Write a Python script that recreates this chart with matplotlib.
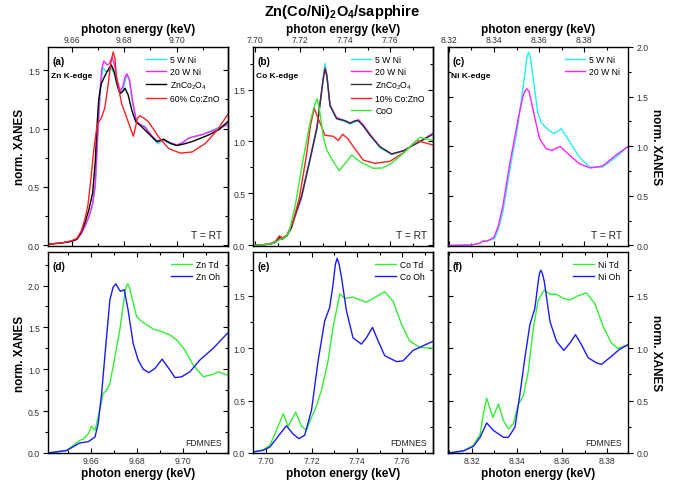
import matplotlib
matplotlib.use('Agg')
import matplotlib.pyplot as plt
from matplotlib.ticker import MultipleLocator, FormatStrFormatter, NullFormatter

plt.rcParams['font.family'] = ['Liberation Sans', 'DejaVu Sans']
plt.rcParams['mathtext.fontset'] = 'custom'
plt.rcParams['mathtext.rm'] = 'Liberation Sans'
plt.rcParams['mathtext.bf'] = 'Liberation Sans:bold'

# ---- (a) Zn K-edge, measured ----
a_e_cyan = [9.651, 9.656, 9.660, 9.662, 9.6636, 9.665, 9.6665, 9.668, 9.669, 9.6695,
            9.6701, 9.6707, 9.6712, 9.6719, 9.673, 9.6742, 9.6751, 9.6762, 9.6773, 9.6783,
            9.6795, 9.6805, 9.6812, 9.682, 9.6832, 9.6847, 9.6865, 9.688, 9.6905, 9.6928,
            9.695, 9.6975, 9.7001, 9.7025, 9.7046, 9.7097, 9.7149, 9.720]
a_cyan = [0.01, 0.02, 0.035, 0.05, 0.10, 0.16, 0.24, 0.35, 0.50, 0.72,
          1.00, 1.22, 1.38, 1.525, 1.49, 1.49, 1.517, 1.47, 1.37, 1.30,
          1.33, 1.42, 1.46, 1.41, 1.22, 1.05, 1.03, 1.02, 0.93, 0.87,
          0.90, 0.87, 0.855, 0.88, 0.918, 0.947, 1.0, 1.05]
a_e_mag = [9.651, 9.656, 9.660, 9.662, 9.6636, 9.665, 9.6665, 9.668, 9.669, 9.6695,
           9.6701, 9.6707, 9.6714, 9.6722, 9.6736, 9.6745, 9.6753, 9.6763, 9.6773, 9.6785,
           9.6795, 9.6803, 9.681, 9.682, 9.6832, 9.6847, 9.6865, 9.688, 9.6905, 9.6928,
           9.695, 9.6975, 9.7001, 9.7025, 9.7046, 9.7097, 9.7149, 9.720]
a_mag = [0.01, 0.02, 0.035, 0.05, 0.10, 0.16, 0.24, 0.36, 0.53, 0.76,
         1.03, 1.28, 1.50, 1.58, 1.545, 1.56, 1.61, 1.55, 1.42, 1.32,
         1.36, 1.44, 1.47, 1.42, 1.24, 1.06, 1.03, 1.01, 0.94, 0.885,
         0.905, 0.88, 0.86, 0.885, 0.92, 0.95, 0.99, 1.04]
a_e_blk = [9.651, 9.656, 9.660, 9.662, 9.6636, 9.665, 9.6665, 9.668, 9.669, 9.6696,
           9.6703, 9.6712, 9.6722, 9.6735, 9.6751, 9.6763, 9.6775, 9.6785, 9.6795, 9.6803,
           9.6815, 9.683, 9.6844, 9.6865, 9.6892, 9.6924, 9.695, 9.6975, 9.700, 9.703,
           9.706, 9.7123, 9.716, 9.720]
a_blk = [0.01, 0.02, 0.035, 0.055, 0.11, 0.19, 0.30, 0.45, 0.72, 1.00,
         1.25, 1.38, 1.43, 1.49, 1.546, 1.48, 1.36, 1.30, 1.32, 1.346,
         1.29, 1.15, 1.06, 1.02, 0.96, 0.89, 0.91, 0.875, 0.855, 0.87,
         0.89, 0.947, 0.99, 1.07]
a_e_red = [9.651, 9.656, 9.660, 9.662, 9.6636, 9.665, 9.6662, 9.6672, 9.6685, 9.6695,
           9.670, 9.6713, 9.6726, 9.6738, 9.6749, 9.6758, 9.6765, 9.677, 9.679, 9.6815,
           9.6835, 9.6851, 9.686, 9.6875, 9.6892, 9.6931, 9.6969, 9.7014, 9.7059, 9.711,
           9.7155, 9.720]
a_red = [0.01, 0.02, 0.04, 0.06, 0.12, 0.22, 0.345, 0.545, 0.83, 1.0,
         1.046, 1.09, 1.175, 1.36, 1.56, 1.657, 1.6, 1.446, 1.217, 1.06,
         0.935, 1.09, 1.11, 1.09, 1.06, 0.93, 0.83, 0.79, 0.80, 0.875,
         0.99, 1.14]

# ---- (b) Co K-edge, measured ----
b_e = [7.699, 7.703, 7.707, 7.709, 7.7107, 7.712, 7.714, 7.716, 7.7175, 7.7205,
       7.724, 7.7274, 7.729, 7.7302, 7.731, 7.7318, 7.7332, 7.7361, 7.7399, 7.7421,
       7.7445, 7.7458, 7.748, 7.751, 7.7554, 7.7606, 7.7658, 7.7732, 7.779]
b_5w = [0.0, 0.005, 0.015, 0.03, 0.07, 0.06, 0.09, 0.16, 0.26, 0.45,
        0.78, 1.12, 1.40, 1.62, 1.75, 1.65, 1.34, 1.22, 1.19, 1.17,
        1.19, 1.20, 1.15, 1.06, 0.94, 0.875, 0.91, 1.0, 1.07]
b_20w = [0.0, 0.005, 0.015, 0.03, 0.07, 0.06, 0.09, 0.165, 0.27, 0.46,
         0.80, 1.14, 1.41, 1.61, 1.71, 1.64, 1.35, 1.23, 1.20, 1.18,
         1.20, 1.21, 1.16, 1.07, 0.95, 0.88, 0.91, 1.0, 1.08]
b_zco = [0.0, 0.005, 0.015, 0.03, 0.075, 0.06, 0.095, 0.17, 0.28, 0.47,
         0.80, 1.13, 1.40, 1.60, 1.70, 1.63, 1.35, 1.22, 1.20, 1.175,
         1.20, 1.20, 1.15, 1.06, 0.95, 0.88, 0.91, 1.0, 1.07]
b_e_red = [7.699, 7.703, 7.707, 7.709, 7.7107, 7.712, 7.714, 7.7166, 7.7195, 7.7225,
           7.7245, 7.7262, 7.728, 7.731, 7.7347, 7.7369, 7.7388, 7.741, 7.7436, 7.748,
           7.7532, 7.7599, 7.7658, 7.7717, 7.779]
b_red = [0.0, 0.005, 0.02, 0.04, 0.093, 0.07, 0.10, 0.22, 0.45, 0.835,
         1.15, 1.32, 1.22, 1.06, 1.05, 1.01, 1.07, 1.03, 0.95, 0.82,
         0.79, 0.81, 0.89, 1.01, 0.966]
b_e_coo = [7.699, 7.703, 7.707, 7.709, 7.711, 7.713, 7.715, 7.7178, 7.7213, 7.7245,
           7.7265, 7.7276, 7.7288, 7.7302, 7.7317, 7.7347, 7.7373, 7.7406, 7.7428, 7.7465,
           7.7524, 7.7565, 7.7605, 7.7658, 7.7732, 7.779]
b_coo = [0.0, 0.005, 0.015, 0.03, 0.06, 0.07, 0.13, 0.39, 0.835, 1.20,
         1.36, 1.41, 1.27, 1.05, 0.92, 0.806, 0.72, 0.806, 0.87, 0.806,
         0.742, 0.745, 0.79, 0.886, 1.04, 1.01]

# ---- (c) Ni K-edge, measured ----
c_e_5w = [8.32, 8.330, 8.3335, 8.3351, 8.337, 8.3403, 8.342, 8.344, 8.3469, 8.3506,
          8.3536, 8.3546, 8.3553, 8.3561, 8.3572, 8.3594, 8.3609, 8.3638, 8.3665, 8.3698,
          8.3727, 8.3778, 8.3823, 8.3881, 8.394, 8.3995]
c_5w = [0.0, 0.005, 0.02, 0.043, 0.045, 0.07, 0.17, 0.34, 0.74, 1.21,
        1.71, 1.90, 1.946, 1.90, 1.71, 1.34, 1.236, 1.17, 1.126, 1.176,
        1.075, 0.89, 0.79, 0.79, 0.89, 1.0]
c_e_20w = [8.32, 8.330, 8.3335, 8.3351, 8.337, 8.340, 8.342, 8.344, 8.3469, 8.3506,
           8.3528, 8.3538, 8.3546, 8.3556, 8.3572, 8.3602, 8.3631, 8.3656, 8.3693, 8.3735,
           8.3778, 8.3826, 8.3881, 8.394, 8.3995]
c_20w = [0.0, 0.005, 0.02, 0.043, 0.045, 0.08, 0.20, 0.405, 0.81, 1.26,
         1.50, 1.56, 1.578, 1.55, 1.377, 1.075, 0.975, 0.958, 0.998, 0.908,
         0.824, 0.78, 0.80, 0.91, 1.0]

# ---- (d) Zn, FDMNES ----
d_e_td = [9.6415, 9.6496, 9.6553, 9.657, 9.659, 9.6604, 9.6619, 9.6633, 9.6655, 9.667,
          9.6684, 9.6706, 9.6727, 9.6745, 9.6753, 9.6761, 9.6769, 9.6778, 9.680, 9.6822,
          9.685, 9.6872, 9.6909, 9.6945, 9.6974, 9.701, 9.7046, 9.709, 9.7133, 9.7155,
          9.7195]
d_td = [0.0, 0.03, 0.15, 0.17, 0.23, 0.32, 0.27, 0.43, 0.71, 0.75,
        0.83, 1.15, 1.47, 1.83, 1.97, 2.02, 1.98, 1.87, 1.63, 1.57,
        1.52, 1.48, 1.45, 1.41, 1.35, 1.23, 1.05, 0.91, 0.94, 0.97,
        0.93]
d_e_oh = [9.6415, 9.6496, 9.6553, 9.659, 9.6619, 9.6633, 9.6648, 9.6667, 9.6684, 9.6698,
          9.671, 9.672, 9.673, 9.6746, 9.6763, 9.6785, 9.6807, 9.6829, 9.6853, 9.688,
          9.6911, 9.694, 9.6967, 9.6996, 9.7032, 9.7075, 9.7133, 9.7195]
d_oh = [0.0, 0.03, 0.12, 0.135, 0.19, 0.35, 0.71, 1.31, 1.83, 1.98,
        2.02, 1.97, 1.93, 1.95, 1.71, 1.31, 1.11, 1.0, 0.96, 1.01,
        1.12, 1.01, 0.90, 0.91, 0.97, 1.11, 1.25, 1.43]

# ---- (e) Co, FDMNES ----
e_e_td = [7.6941, 7.6985, 7.7015, 7.7044, 7.7074, 7.7096, 7.7129, 7.7154, 7.7176, 7.7199,
          7.7221, 7.7243, 7.7272, 7.7294, 7.7324, 7.7346, 7.7382, 7.7404, 7.7441, 7.7478,
          7.7522, 7.7559, 7.7596, 7.7632, 7.7676, 7.7735]
e_td = [0.01, 0.03, 0.073, 0.216, 0.375, 0.254, 0.39, 0.26, 0.216, 0.34,
        0.45, 0.60, 0.88, 1.2, 1.52, 1.476, 1.49, 1.47, 1.44, 1.486,
        1.54, 1.45, 1.23, 1.07, 1.01, 1.0]
e_e_oh = [7.6941, 7.6985, 7.7015, 7.7059, 7.7088, 7.7118, 7.7143, 7.7169, 7.7199, 7.7228,
          7.7257, 7.7279, 7.7294, 7.7304, 7.7312, 7.7321, 7.7331, 7.7353, 7.7382, 7.7419,
          7.7441, 7.7468, 7.7493, 7.7522, 7.7574, 7.7603, 7.7647, 7.7735]
e_oh = [0.01, 0.025, 0.057, 0.18, 0.26, 0.18, 0.137, 0.17, 0.41, 0.88,
        1.26, 1.39, 1.61, 1.80, 1.86, 1.80, 1.68, 1.36, 1.10, 1.04,
        1.10, 1.20, 1.07, 0.93, 0.873, 0.88, 0.98, 1.067]

# ---- (f) Ni, FDMNES ----
f_e_td = [8.3097, 8.3163, 8.3207, 8.3237, 8.3251, 8.3266, 8.3293, 8.3318, 8.334, 8.3362,
          8.3384, 8.3406, 8.3428, 8.345, 8.3472, 8.3494, 8.3521, 8.3546, 8.3575, 8.3604,
          8.3634, 8.3671, 8.3707, 8.3744, 8.3781, 8.3818, 8.3847, 8.3893]
f_td = [0.0, 0.02, 0.073, 0.18, 0.37, 0.524, 0.34, 0.467, 0.31, 0.23,
        0.28, 0.467, 0.546, 0.78, 1.19, 1.46, 1.557, 1.516, 1.516, 1.478,
        1.462, 1.503, 1.53, 1.43, 1.21, 1.05, 0.998, 1.036]
f_e_oh = [8.3097, 8.3163, 8.3207, 8.3237, 8.3266, 8.3296, 8.334, 8.3362, 8.3391, 8.3413,
          8.3435, 8.3457, 8.3479, 8.3494, 8.3500, 8.3506, 8.3513, 8.3521, 8.3546, 8.3575,
          8.3607, 8.3634, 8.3659, 8.3685, 8.3715, 8.3751, 8.3774, 8.381, 8.3854, 8.3893]
f_oh = [0.0, 0.02, 0.063, 0.15, 0.287, 0.215, 0.15, 0.15, 0.246, 0.56,
        0.91, 1.225, 1.38, 1.636, 1.72, 1.746, 1.71, 1.636, 1.257, 1.067,
        0.98, 1.05, 1.13, 1.036, 0.91, 0.862, 0.846, 0.91, 0.99, 1.036]

CYAN = '#22f0f0'
MAG = '#ff22ff'
RED = '#ff2020'
GREEN = '#33ee33'
BLUE = '#1a1aff'
TXT = '#333333'
lw = 1.0

fig = plt.figure(figsize=(6.84, 4.89), dpi=100)
W = 0.263
lefts = [0.0702, 0.370, 0.6557]
ax_a = fig.add_axes([lefts[0], 0.495, W, 0.407])
ax_b = fig.add_axes([lefts[1], 0.495, W, 0.407])
ax_c = fig.add_axes([lefts[2], 0.495, W, 0.407])
ax_d = fig.add_axes([lefts[0], 0.0716, W, 0.411])
ax_e = fig.add_axes([lefts[1], 0.0716, W, 0.411])
ax_f = fig.add_axes([lefts[2], 0.0716, W, 0.411])


def style(ax, top=False, right=False):
    ax.xaxis.set_major_locator(MultipleLocator(0.02))
    ax.xaxis.set_minor_locator(MultipleLocator(0.01))
    ax.xaxis.set_major_formatter(FormatStrFormatter('%.2f'))
    ax.yaxis.set_major_locator(MultipleLocator(0.5))
    ax.yaxis.set_minor_locator(MultipleLocator(0.25))
    ax.yaxis.set_major_formatter(FormatStrFormatter('%.1f'))
    ax.tick_params(axis='x', which='both', direction='in', top=True, bottom=True)
    ax.tick_params(which='both', labelsize=6.2, pad=2.2, colors='black',
                   labelcolor=TXT, width=0.8)
    ax.tick_params(which='major', length=3.5)
    ax.tick_params(which='minor', length=2)
    if top:
        ax.tick_params(labeltop=True, labelbottom=False)
        ax.xaxis.set_label_position('top')
    # labelled y side: ticks outward; opposite side: ticks inward
    side = 'left' if right else 'right'
    if right:
        ax.tick_params(axis='y', which='both', direction='out', left=False,
                       right=True, labelleft=False, labelright=True)
        ax.yaxis.set_label_position('right')
    else:
        ax.tick_params(axis='y', which='both', direction='out', left=True,
                       right=False)
    sec = ax.secondary_yaxis(side)
    sec.yaxis.set_major_locator(MultipleLocator(0.5))
    sec.yaxis.set_minor_locator(MultipleLocator(0.25))
    sec.yaxis.set_major_formatter(NullFormatter())
    sec.tick_params(which='both', direction='in', width=0.8)
    sec.tick_params(which='major', length=3.5)
    sec.tick_params(which='minor', length=2)
    sec.spines[side].set_linewidth(1.0)
    for s in ax.spines.values():
        s.set_linewidth(1.0)


def labels(ax, letter, edge=None, note=None, note_size=7.3):
    ax.text(0.025, 0.955, letter, transform=ax.transAxes, fontsize=7.2,
            fontweight='bold', va='top', ha='left')
    if edge:
        ax.text(0.015, 0.875, edge, transform=ax.transAxes, fontsize=6,
                fontweight='bold', va='top', ha='left')
    if note:
        ax.text(0.965, 0.03, note, transform=ax.transAxes, fontsize=note_size,
                va='bottom', ha='right', color='#222222')


leg_kw = dict(loc='upper right', frameon=False, fontsize=6.2, handlelength=2.4,
              handletextpad=0.45, labelspacing=0.35, borderaxespad=0.55)

# (a)
ax_a.plot(a_e_cyan, a_cyan, color=CYAN, lw=lw, label='5 W Ni')
ax_a.plot(a_e_mag, a_mag, color=MAG, lw=lw, label='20 W Ni')
ax_a.plot(a_e_blk, a_blk, color='black', lw=lw, label=r'ZnCo$_2$O$_4$')
ax_a.plot(a_e_red, a_red, color=RED, lw=lw, label='60% Co:ZnO')
ax_a.set_xlim(9.651, 9.7195)
ax_a.set_ylim(-0.005, 1.70)
style(ax_a, top=True)
ax_a.legend(**leg_kw)
labels(ax_a, '(a)', 'Zn K-edge', 'T = RT')

# (b)
ax_b.plot(b_e, b_5w, color=CYAN, lw=lw, label='5 W Ni')
ax_b.plot(b_e, b_20w, color=MAG, lw=lw, label='20 W Ni')
ax_b.plot(b_e, b_zco, color='#333333', lw=lw, label=r'ZnCo$_2$O$_4$')
ax_b.plot(b_e_red, b_red, color=RED, lw=lw, label='10% Co:ZnO')
ax_b.plot(b_e_coo, b_coo, color=GREEN, lw=lw, label='CoO')
ax_b.set_xlim(7.699, 7.779)
ax_b.set_ylim(-0.005, 1.91)
style(ax_b, top=True)
ax_b.legend(**leg_kw)
labels(ax_b, '(b)', 'Co K-edge', 'T = RT')

# (c)
ax_c.plot(c_e_5w, c_5w, color=CYAN, lw=lw, label='5 W Ni')
ax_c.plot(c_e_20w, c_20w, color=MAG, lw=lw, label='20 W Ni')
ax_c.set_xlim(8.3199, 8.3995)
ax_c.set_ylim(-0.005, 2.0)
style(ax_c, top=True, right=True)
ax_c.legend(**leg_kw)
labels(ax_c, '(c)', 'Ni K-edge', 'T = RT')

# (d)
ax_d.plot(d_e_td, d_td, color=GREEN, lw=lw, label='Zn Td')
ax_d.plot(d_e_oh, d_oh, color=BLUE, lw=lw, label='Zn Oh')
ax_d.set_xlim(9.6415, 9.7197)
ax_d.set_ylim(0.0, 2.4)
style(ax_d)
ax_d.legend(**leg_kw)
labels(ax_d, '(d)', note='FDMNES', note_size=6.2)

# (e)
ax_e.plot(e_e_td, e_td, color=GREEN, lw=lw, label='Co Td')
ax_e.plot(e_e_oh, e_oh, color=BLUE, lw=lw, label='Co Oh')
ax_e.set_xlim(7.6941, 7.7735)
ax_e.set_ylim(0.0, 1.92)
style(ax_e)
ax_e.legend(**leg_kw)
labels(ax_e, '(e)', note='FDMNES', note_size=6.2)

# (f)
ax_f.plot(f_e_td, f_td, color=GREEN, lw=lw, label='Ni Td')
ax_f.plot(f_e_oh, f_oh, color=BLUE, lw=lw, label='Ni Oh')
ax_f.set_xlim(8.3097, 8.3893)
ax_f.set_ylim(0.0, 1.92)
style(ax_f, right=True)
ax_f.legend(**leg_kw)
labels(ax_f, '(f)', note='FDMNES', note_size=6.2)

lab_kw = dict(fontsize=8.5, fontweight='bold')
for ax in (ax_a, ax_b, ax_c):
    ax.set_xlabel('photon energy (keV)', labelpad=2.0, **lab_kw)
for ax in (ax_d, ax_e, ax_f):
    ax.set_xlabel('photon energy (keV)', labelpad=1.5, **lab_kw)
ax_a.set_ylabel('norm. XANES', labelpad=1.5, **lab_kw)
ax_d.set_ylabel('norm. XANES', labelpad=1.5, **lab_kw)
ax_c.set_ylabel('norm. XANES', rotation=270, labelpad=10, **lab_kw)
ax_f.set_ylabel('norm. XANES', rotation=270, labelpad=10, **lab_kw)

fig.text(0.5, 0.975, r'Zn(Co/Ni)$_\mathbf{2}$O$_\mathbf{4}$/sapphire', ha='center',
         va='center', fontsize=10.5, fontweight='bold')

fig.savefig('out.png', dpi=100)
